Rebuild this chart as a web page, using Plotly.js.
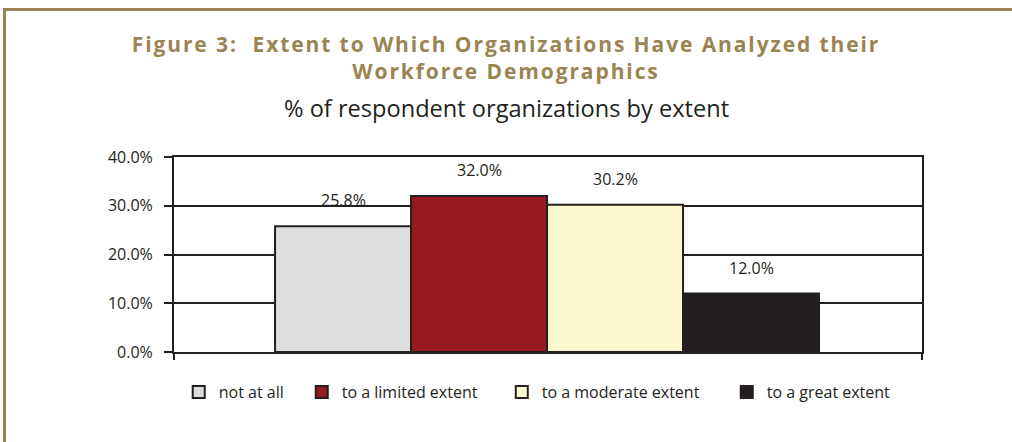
<!DOCTYPE html>
<html>
<head>
<meta charset="utf-8">
<script src="https://cdn.plot.ly/plotly-3.0.1.min.js"></script>
<style>
html,body{margin:0;padding:0;background:#fff;}
#frame{position:absolute;left:0;top:0;width:1012px;height:442px;}
#chart{position:absolute;left:0;top:0;width:1012px;height:442px;}
.bt{position:absolute;left:3px;top:8px;width:1009px;height:3px;background:#9c8352;}
.bl{position:absolute;left:3px;top:8px;width:3px;height:434px;background:#9c8352;}
#chart .gtitle{letter-spacing:1.9px;}
</style>
</head>
<body>
<div id="frame"><div id="chart"></div><div class="bt"></div><div class="bl"></div></div>
<script>
const categories = ["not at all", "to a limited extent", "to a moderate extent", "to a great extent"];
const values = [25.8, 32.0, 30.2, 12.0];
const valueLabels = ["25.8%", "32.0%", "30.2%", "12.0%"];
const colors = ["#dcdddf", "#961a1f", "#fbf7cf", "#231f20"];
const yTickVals = [0, 10, 20, 30, 40];
const yTickText = ["0.0%", "10.0%", "20.0%", "30.0%", "40.0%"];

const FONT = "Open Sans, Noto Sans, sans-serif";
const legendIds = ["legend", "legend2", "legend3", "legend4"];
const legendX = [0.0063, 0.1708, 0.4382, 0.7390];

const traces = categories.map((c, i) => ({
  type: "bar",
  name: c,
  x: [i],
  y: [values[i]],
  width: 1,
  legend: legendIds[i],
  marker: {color: colors[i], line: {color: "#231f20", width: 2}},
  hoverinfo: "skip"
}));

const annotations = categories.map((c, i) => ({
  x: i, y: values[i], xref: "x", yref: "y",
  text: valueLabels[i], showarrow: false,
  yanchor: "middle", yshift: 26,
  font: {family: FONT, size: 16, color: "#231f20"}
}));
annotations.push({
  xref: "paper", yref: "paper", x: (506 - 174) / 748, y: (352 - 108) / 195,
  xanchor: "center", yanchor: "middle",
  text: "% of respondent organizations by extent", showarrow: false,
  font: {family: FONT, size: 23.6, color: "#231f20"}
});

const layout = {
  width: 1012, height: 442,
  margin: {l: 174, r: 90, t: 157, b: 90},
  paper_bgcolor: "rgba(0,0,0,0)", plot_bgcolor: "#fff",
  barmode: "overlay",
  title: {
    text: "Figure 3:  Extent to Which Organizations Have Analyzed their<br>Workforce Demographics",
    font: {family: FONT, size: 21, color: "#9c8352", weight: "bold"},
    x: 0.5, xref: "container", xanchor: "center",
    y: 1 - 52/442, yref: "container", yanchor: "middle"
  },
  xaxis: {
    range: [-1.243, 4.257], showgrid: false, zeroline: false,
    tickvals: [-1.243, 4.257], showticklabels: false,
    ticks: "outside", ticklen: 6, tickwidth: 2, tickcolor: "#231f20",
    showline: true, linecolor: "#231f20", linewidth: 2, mirror: true, fixedrange: true
  },
  yaxis: {
    range: [0, 40], tickvals: yTickVals, ticktext: yTickText,
    ticks: "outside", ticklen: 8, tickwidth: 2, tickcolor: "#231f20",
    ticklabelstandoff: 8,
    showgrid: true, gridcolor: "#231f20", gridwidth: 2, zeroline: false,
    showline: true, linecolor: "#231f20", linewidth: 2, mirror: true,
    tickfont: {family: FONT, size: 16, color: "#231f20"}, fixedrange: true
  },
  showlegend: true,
  annotations: annotations
};
legendIds.forEach((id, i) => {
  layout[id] = {
    orientation: "h", x: legendX[i], xanchor: "left", y: -0.205, yanchor: "middle",
    font: {family: FONT, size: 16, color: "#231f20"},
    bgcolor: "rgba(0,0,0,0)"
  };
});

Plotly.newPlot("chart", traces, layout, {displayModeBar: false, staticPlot: true});
</script>
</body>
</html>
